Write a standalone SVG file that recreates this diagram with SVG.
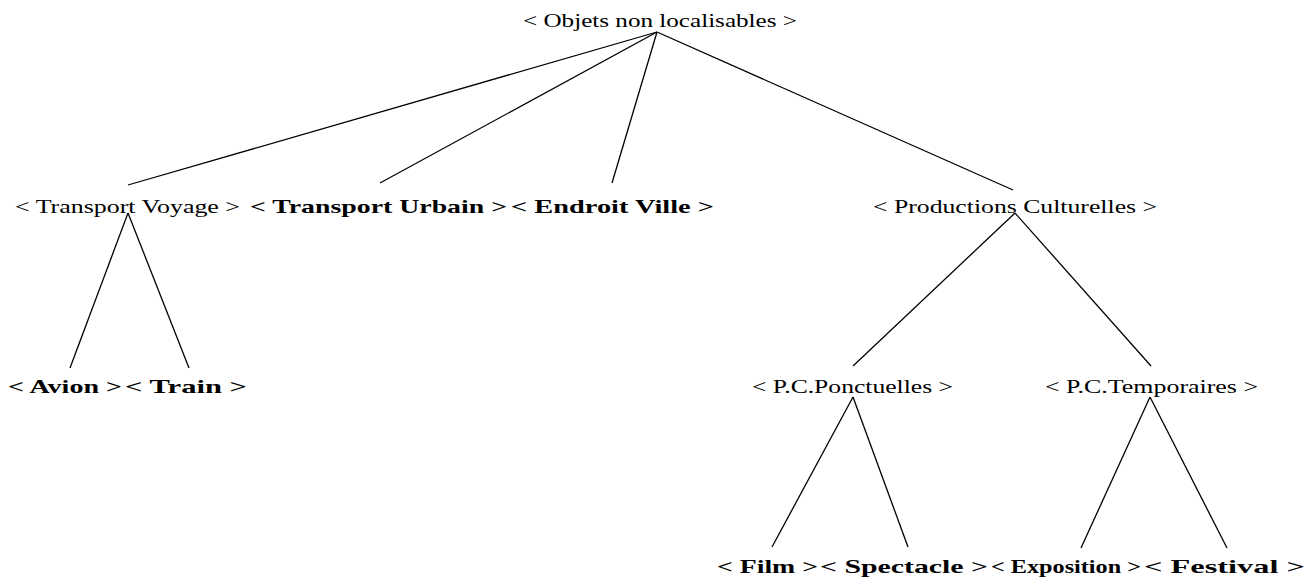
<svg xmlns="http://www.w3.org/2000/svg" width="1307" height="581" viewBox="0 0 1307 581">
<style>
text{font-family:"Liberation Serif","DejaVu Serif",serif;font-size:19px;fill:#000}
.b{font-weight:bold}
.e line{stroke:#000;stroke-width:1.3;fill:none}
</style>
<rect width="1307" height="581" fill="#fff"/>
<g class="e" id="connectors">
<line x1="657" y1="32" x2="128" y2="185"/>
<line x1="657" y1="32" x2="380" y2="183"/>
<line x1="657" y1="32" x2="612" y2="183"/>
<line x1="657" y1="32" x2="1013" y2="190"/>
<line x1="128" y1="213" x2="70" y2="368"/>
<line x1="128" y1="213" x2="189" y2="368"/>
<line x1="1015" y1="213" x2="853" y2="366"/>
<line x1="1015" y1="213" x2="1151" y2="366"/>
<line x1="853" y1="397" x2="772" y2="547"/>
<line x1="853" y1="397" x2="908" y2="547"/>
<line x1="1150" y1="397" x2="1081" y2="548"/>
<line x1="1150" y1="397" x2="1227" y2="548"/>
</g>
<g id="n-root"><text x="523" y="27" textLength="274" lengthAdjust="spacingAndGlyphs">&lt; Objets non localisables &gt;</text></g>
<g id="n-tv"><text x="15" y="213" textLength="225" lengthAdjust="spacingAndGlyphs">&lt; Transport Voyage &gt;</text></g>
<g id="n-tu"><text class="b" x="250" y="213" textLength="257" lengthAdjust="spacingAndGlyphs">&lt; Transport Urbain &gt;</text></g>
<g id="n-ev"><text class="b" x="511" y="213" textLength="203" lengthAdjust="spacingAndGlyphs">&lt; Endroit Ville &gt;</text></g>
<g id="n-pc"><text x="873" y="213" textLength="284" lengthAdjust="spacingAndGlyphs">&lt; Productions Culturelles &gt;</text></g>
<g id="n-avion"><text class="b" x="8" y="393" textLength="114" lengthAdjust="spacingAndGlyphs">&lt; Avion &gt;</text></g>
<g id="n-train"><text class="b" x="125" y="393" textLength="122" lengthAdjust="spacingAndGlyphs">&lt; Train &gt;</text></g>
<g id="n-pcp"><text x="752" y="393" textLength="201" lengthAdjust="spacingAndGlyphs">&lt; P.C.Ponctuelles &gt;</text></g>
<g id="n-pct"><text x="1045" y="393" textLength="213" lengthAdjust="spacingAndGlyphs">&lt; P.C.Temporaires &gt;</text></g>
<g id="n-film"><text class="b" x="717" y="573" textLength="101" lengthAdjust="spacingAndGlyphs">&lt; Film &gt;</text></g>
<g id="n-spec"><text class="b" x="820" y="573" textLength="168" lengthAdjust="spacingAndGlyphs">&lt; Spectacle &gt;</text></g>
<g id="n-expo"><text class="b" x="991" y="573" textLength="150" lengthAdjust="spacingAndGlyphs">&lt; Exposition &gt;</text></g>
<g id="n-fest"><text class="b" x="1144" y="573" textLength="161" lengthAdjust="spacingAndGlyphs">&lt; Festival &gt;</text></g>
</svg>
